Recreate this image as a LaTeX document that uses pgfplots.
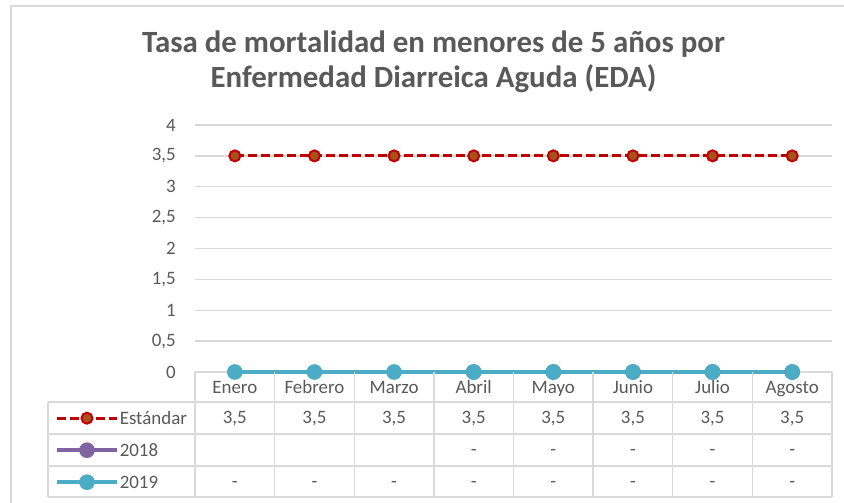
\documentclass[border=0pt]{standalone}
\usepackage{fontspec}
\setmainfont{Carlito}
\usepackage{pgfplots}
\pgfplotsset{compat=1.18}

\definecolor{txt}{HTML}{595959}
\definecolor{gridgray}{HTML}{D9D9D9}
\definecolor{estd}{HTML}{C00000}
\definecolor{estdfill}{HTML}{A5521C}
\definecolor{c18}{HTML}{8064A2}
\definecolor{c19}{HTML}{4BACC6}

\begin{document}
\begin{tikzpicture}
% the plot area's lower left corner sits at (0,0); the frame below is
% given in pixels of the 844 x 503 page, y from the bottom
\begin{scope}[shift={(-195bp,-131bp)}, x=1bp, y=1bp]
\useasboundingbox (0,0) rectangle (844,503);
\fill[white] (0,0) rectangle (844,503);
\draw[gridgray, line width=1.2bp] (11,-1) -- (11,497) -- (845,497);
\node[anchor=base, font=\fontsize{31}{33}\selectfont\bfseries, text=txt]
  at (433.5,450) {Tasa de mortalidad en menores de 5 años por};
\node[anchor=base, font=\fontsize{31}{33}\selectfont\bfseries, text=txt]
  at (433.5,415.5) {Enfermedad Diarreica Aguda (EDA)};
\end{scope}

\begin{axis}[
    anchor=south west,
    width=637bp, height=247bp, scale only axis,
    xmin=-0.5, xmax=7.5, ymin=0, ymax=4,
    clip=false,
    axis line style={draw=none},
    tick style={draw=none},
    ymajorgrids, xmajorgrids=false,
    major grid style={draw=gridgray, line width=1.3bp},
    ytick={0,0.5,...,4},
    xtick={0,...,7},
    xticklabels={Enero,Febrero,Marzo,Abril,Mayo,Junio,Julio,Agosto},
    /pgf/number format/assume math mode=true,
    /pgf/number format/use comma,
    ticklabel style={font=\fontsize{19}{21}\selectfont, text=txt},
    yticklabel style={anchor=east, inner sep=0pt, xshift=-19bp},
    xticklabel style={anchor=base, inner sep=0pt, yshift=-22bp},
    legend style={
        at={(-0.2198,-0.1215)}, anchor=north west,
        draw=none, fill=none, inner sep=0pt, row sep=0pt,
        column sep=1bp,
        font=\fontsize{19}{21}\selectfont, text=txt,
        nodes={inner sep=0pt, text height=22bp, text depth=10bp},
    },
    legend cell align=left,
    legend image code/.code={
        \draw[mark repeat=2, mark phase=2, #1]
            plot coordinates {(0bp,0bp) (30bp,0bp) (60bp,0bp)};
    },
]
\addplot[estd, line width=3bp, dash pattern=on 9bp off 4bp,
    mark=*, mark size=5.5bp,
    mark options={solid, fill=estdfill, draw=estd, line width=2bp}]
    coordinates {(0,3.5) (1,3.5) (2,3.5) (3,3.5) (4,3.5) (5,3.5) (6,3.5) (7,3.5)};
\addlegendentry{Estándar}
\addplot[c18, line width=3.6bp, mark=*, mark size=6bp]
    coordinates {(3,0) (4,0) (5,0) (6,0) (7,0)};
\addlegendentry{2018}
\addplot[c19, line width=3.6bp, mark=*, mark size=6bp]
    coordinates {(0,0) (1,0) (2,0) (3,0) (4,0) (5,0) (6,0) (7,0)};
\addlegendentry{2019}
\end{axis}

% data table below the plot
\begin{scope}[shift={(-195bp,-131bp)}, x=1bp, y=1bp]
\begin{scope}[gridgray, line width=1.3bp]
\foreach \y in {101,69,37,6} \draw (48,\y) -- (831.5,\y);
\draw (48,101) -- (48,6);
\foreach \k in {0,...,8} \draw ({195+79.625*\k},131) -- ({195+79.625*\k},6);
\end{scope}
\begin{scope}[font=\fontsize{19}{21}\selectfont, text=txt]
\foreach \k in {0,...,7} \node[anchor=base, inner sep=0pt] at ({234.8+79.625*\k},79) {3,5};
\foreach \k in {3,...,7} \node[anchor=base, inner sep=0pt] at ({234.8+79.625*\k},47) {-};
\foreach \k in {0,...,7} \node[anchor=base, inner sep=0pt] at ({234.8+79.625*\k},15) {-};
\end{scope}
\end{scope}
\end{tikzpicture}
\end{document}
